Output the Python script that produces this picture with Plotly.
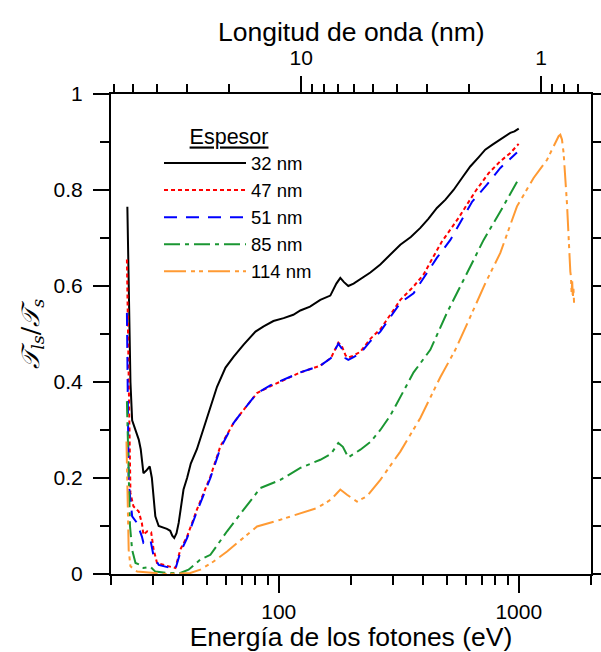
import plotly.graph_objects as go
import math

# ---- data ----
labels = ["32 nm", "47 nm", "51 nm", "85 nm", "114 nm"]

energy_32 = [23.4, 23.8, 24.1, 24.5, 25.3, 26.1, 26.6, 27.3, 28.0, 29.0, 29.6, 30.1, 30.6, 31.6, 33.0,
             34.2, 35.3, 36.0, 36.7, 37.5, 38.3, 39.2, 40.1, 41.5, 43.0, 45.6, 50.0, 55.3, 60.0, 64.9,
             71.4, 80.0, 86.5, 95.0, 104.8, 115.0, 123.0, 135.0, 149.0, 164.0, 173.8, 180.5, 187.0,
             194.9, 205.0, 218.8, 240.8, 265.0, 291.6, 321.0, 355.0, 389.0, 420.0, 456.0, 495.0,
             535.0, 580.0, 628.0, 680.0, 725.0, 780.0, 838.0, 880.0, 922.0, 960.0, 1000.0]
trans_32 = [0.765, 0.55, 0.40, 0.32, 0.30, 0.28, 0.26, 0.21, 0.215, 0.224, 0.20, 0.16, 0.12, 0.10, 0.097,
            0.094, 0.09, 0.08, 0.075, 0.085, 0.107, 0.14, 0.176, 0.20, 0.23, 0.26, 0.32, 0.39, 0.43, 0.453,
            0.478, 0.505, 0.516, 0.527, 0.533, 0.54, 0.549, 0.557, 0.571, 0.58, 0.605, 0.617, 0.608,
            0.60, 0.605, 0.615, 0.628, 0.645, 0.665, 0.686, 0.702, 0.721, 0.74, 0.7625, 0.78,
            0.80, 0.825, 0.849, 0.868, 0.884, 0.895, 0.905, 0.912, 0.919, 0.922, 0.928]

energy_47 = [23.3, 23.7, 24.1, 24.8, 26.1, 26.9, 27.3, 28.3, 29.4, 30.1, 31.1, 34.2, 37.1, 38.9, 41.5,
             45.6, 51.9, 57.1, 64.9, 71.4, 81.2, 92.2, 108.2, 123.0, 149.0, 165.0, 177.1, 183.0, 190.0,
             194.9, 205.0, 218.8, 240.8, 265.0, 291.6, 321.0, 364.6, 401.4, 441.8, 479.0, 561.6, 659.0,
             749.0, 838.0, 922.0, 999.0]
trans_47 = [0.655, 0.45, 0.169, 0.141, 0.13, 0.106, 0.082, 0.089, 0.087, 0.051, 0.023, 0.017, 0.0125, 0.051, 0.078,
            0.134, 0.203, 0.266, 0.315, 0.342, 0.377, 0.391, 0.408, 0.42, 0.434, 0.45, 0.482, 0.475, 0.455,
            0.451, 0.455, 0.463, 0.49, 0.51, 0.54, 0.571, 0.599, 0.624, 0.662, 0.693, 0.742, 0.797,
            0.835, 0.86, 0.877, 0.896]

energy_51 = [23.3, 23.7, 24.5, 25.7, 26.9, 27.3, 29.2, 30.1, 31.6, 35.3, 37.1, 38.9, 41.5, 45.6, 51.9,
             57.1, 64.9, 71.4, 81.2, 92.2, 108.2, 123.0, 149.0, 165.0, 177.1, 183.0, 189.4, 194.9, 205.0,
             218.8, 240.8, 265.0, 291.6, 321.0, 364.6, 456.4, 518.8, 640.0, 737.0, 838.0, 983.0]
trans_51 = [0.544, 0.19, 0.12, 0.106, 0.078, 0.065, 0.071, 0.037, 0.019, 0.0125, 0.010, 0.045, 0.075, 0.13, 0.20,
            0.262, 0.315, 0.342, 0.377, 0.393, 0.408, 0.42, 0.434, 0.45, 0.48, 0.47, 0.45, 0.446, 0.452,
            0.46, 0.485, 0.505, 0.535, 0.565, 0.585, 0.659, 0.696, 0.776, 0.811, 0.846, 0.878]

energy_85 = [23.3, 24.0, 24.5, 25.3, 26.5, 27.3, 29.2, 30.6, 34.2, 38.9, 42.1, 47.1, 51.9, 60.9, 71.4,
             83.8, 101.5, 123.0, 149.0, 165.0, 177.1, 185.0, 194.9, 205.0, 218.8, 240.8, 265.0, 291.6,
             321.0, 364.6, 428.0, 502.0, 609.0, 714.0, 838.0, 999.0]
trans_85 = [0.36, 0.10, 0.05, 0.023, 0.019, 0.0125, 0.015, 0.005, 0.002, 0.002, 0.009, 0.03, 0.04, 0.089, 0.134,
            0.179, 0.196, 0.221, 0.238, 0.25, 0.273, 0.265, 0.243, 0.25, 0.259, 0.275, 0.30, 0.33,
            0.37, 0.42, 0.467, 0.544, 0.627, 0.696, 0.755, 0.823]

energy_114 = [23.2, 23.7, 24.1, 25.7, 34.2, 42.8, 47.1, 53.5, 60.9, 71.4, 81.2, 101.5, 144.4, 165.0, 180.5,
              192.5, 211.8, 233.3, 265.0, 321.0, 389.0, 471.0, 544.0, 639.0, 726.0, 838.0, 983.0, 1153.0,
              1312.0, 1466.0, 1490.0, 1514.0, 1538.0, 1589.0, 1613.0, 1640.0, 1650.0, 1660.0, 1670.0,
              1680.0, 1690.0, 1700.0]
trans_114 = [0.276, 0.05, 0.016, 0.005, 0.0, 0.002, 0.009, 0.026, 0.047, 0.075, 0.099, 0.113, 0.1375, 0.155, 0.176,
             0.165, 0.151, 0.162, 0.196, 0.255, 0.325, 0.41, 0.467, 0.544, 0.606, 0.669, 0.766, 0.825,
             0.863, 0.912, 0.915, 0.905, 0.877, 0.77, 0.69, 0.63, 0.62, 0.585, 0.61, 0.575, 0.595, 0.565]

x_major_ticks = [100, 1000]
x_minor_ticks = [20, 30, 40, 50, 60, 70, 80, 90, 200, 300, 400, 500, 600, 700, 800, 900, 2000]
wl_major_ticks = [10, 1]
wl_minor_ticks = [60, 50, 40, 30, 20, 9, 8, 7, 6, 5, 4, 3, 2, 0.9, 0.8, 0.7]
y_ticks = [0, 0.2, 0.4, 0.6, 0.8, 1]
y_ticktext = ["0", "0.2", "0.4", "0.6", "0.8", "1"]
energy_range = [20, 2000]
HC = 1239.84  # eV*nm

# ---- styles ----
series = [
    (energy_32, trans_32, "#000000", "solid"),
    (energy_47, trans_47, "#ff0000", "4px,3px"),
    (energy_51, trans_51, "#0000ff", "13px,9px"),
    (energy_85, trans_85, "#1a9632", "16px,5px,4px,5px"),
    (energy_114, trans_114, "#ff9a33", "22px,5px,4px,4px,4px,5px"),
]

FONT = "Liberation Sans, Arial, sans-serif"
fig = go.Figure()
for (ex, ty, col, dash), lab in zip(series, labels):
    fig.add_trace(go.Scatter(x=ex, y=ty, mode="lines", name=lab,
                             line=dict(color=col, width=2, dash=dash)))

# helper trace so the top (wavelength) axis is drawn
fig.add_trace(go.Scatter(x=[10], y=[None], xaxis="x2", yaxis="y", mode="lines",
                         showlegend=False, hoverinfo="skip"))

xr = [math.log10(energy_range[0]), math.log10(energy_range[1])]
wr = [math.log10(HC / energy_range[0]), math.log10(HC / energy_range[1])]

fig.update_layout(
    template="none",
    width=601, height=652,
    margin=dict(l=111, r=10, t=94, b=78, autoexpand=False),
    paper_bgcolor="white", plot_bgcolor="white",
    font=dict(family=FONT, color="black", size=21),
    xaxis=dict(type="log", range=xr, showgrid=False, zeroline=False, automargin=False,
               showline=True, linecolor="black", linewidth=2, mirror=False,
               tickmode="array", tickvals=x_major_ticks, ticktext=[str(v) for v in x_major_ticks],
               ticks="outside", ticklen=17, tickwidth=2, tickcolor="black",
               tickfont=dict(size=21), ticklabelstandoff=1,
               minor=dict(tickmode="array", tickvals=x_minor_ticks, ticks="outside",
                          ticklen=9, tickwidth=2, tickcolor="black", showgrid=False),
               title=dict(text="Energía de los fotones (eV)", font=dict(size=26.5), standoff=12)),
    xaxis2=dict(type="log", range=wr, overlaying="x", side="top", anchor="y", automargin=False,
                showgrid=False, zeroline=False, showline=True, linecolor="black", linewidth=2,
                tickmode="array", tickvals=wl_major_ticks, ticktext=[str(v) for v in wl_major_ticks],
                ticks="outside", ticklen=16, tickwidth=2, tickcolor="black",
                tickfont=dict(size=21), ticklabelstandoff=3,
                minor=dict(tickmode="array", tickvals=wl_minor_ticks, ticks="outside",
                           ticklen=8, tickwidth=2, tickcolor="black", showgrid=False)),
    yaxis=dict(range=[0, 1], showgrid=False, zeroline=False, automargin=False,
               showline=True, linecolor="black", linewidth=2, mirror="ticks",
               tickmode="array", tickvals=y_ticks, ticktext=y_ticktext,
               ticks="outside", ticklen=16, tickwidth=2, tickcolor="black",
               tickfont=dict(size=21), ticklabelstandoff=6,
               minor=dict(dtick=0.1, tick0=0, ticks="outside", ticklen=9, tickwidth=2,
                          tickcolor="black", showgrid=False)),
    legend=dict(x=0.10, y=0.953, xanchor="left", yanchor="top",
                bgcolor="rgba(0,0,0,0)", borderwidth=0,
                font=dict(family=FONT, size=18.5), itemwidth=82,
                title=dict(text="<u>Espesor</u>&nbsp;&nbsp;&nbsp;", side="top center",
                           font=dict(family=FONT, size=21.5))),
    annotations=[
        dict(text="Longitud de onda (nm)", xref="paper", yref="paper", x=0.5, y=1.129,
             xanchor="center", yanchor="middle", showarrow=False,
             font=dict(family=FONT, size=26.5, color="black")),
        dict(text="<i>𝒯</i><sub><i>ls</i></sub>/<i>𝒯</i><sub><i>s</i></sub>",
             xref="paper", yref="paper", x=-0.165, y=0.5, xanchor="center", yanchor="middle",
             textangle=-90, showarrow=False,
             font=dict(family="DejaVu Serif, Liberation Serif, serif", size=25, color="black")),
    ],
)

fig.write_html("out.html")
